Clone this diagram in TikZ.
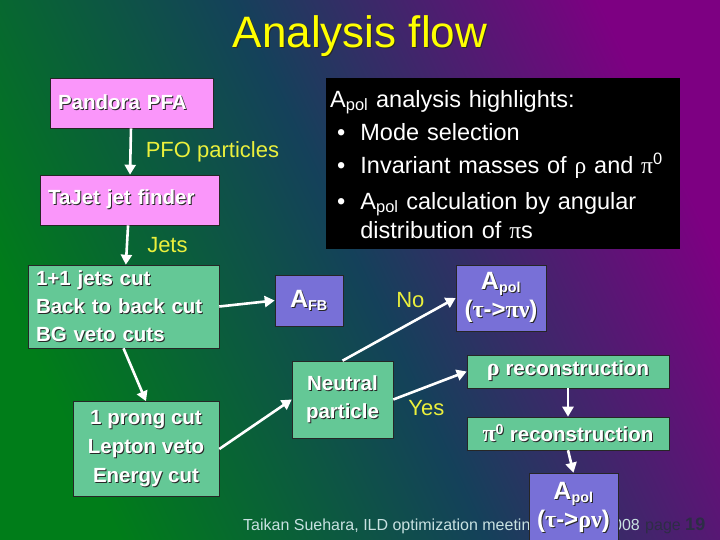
\documentclass[tikz,border=0pt]{standalone}
\usepackage{fontspec}
\setmainfont{Liberation Sans}
\newfontfamily\greekfont{Liberation Serif}
\usetikzlibrary{arrows.meta,positioning}

\definecolor{bggreen}{RGB}{0,125,25}
\definecolor{bgmid}{RGB}{20,65,90}
\definecolor{bgpurple}{RGB}{125,0,130}
\definecolor{pfapink}{RGB}{250,150,250}
\definecolor{cutgreen}{RGB}{100,200,150}
\definecolor{respurple}{RGB}{120,112,215}
\definecolor{titleyellow}{RGB}{255,255,0}
\definecolor{lblyellow}{RGB}{235,240,60}
\definecolor{shadowcol}{RGB}{40,40,40}
\definecolor{footlight}{RGB}{200,225,225}
\definecolor{footdark}{RGB}{45,45,70}

% text with a dark drop shadow
\newcommand{\shd}[1]{\leavevmode\rlap{\kern1pt\raisebox{-1pt}{\color{shadowcol}#1}}#1}
\newcommand{\gr}[1]{{\greekfont #1}}
\newcommand{\boxfont}{\fontsize{20.5}{28}\selectfont\bfseries}
\newcommand{\lblfont}{\fontsize{22}{24}\selectfont}

\begin{document}
\begin{tikzpicture}[x=1pt, y=-1pt,
    box/.style={draw=black!85, line width=0.6pt, text=white, font=\boxfont, inner ysep=0pt},
    pinkbox/.style={box, fill=pfapink, minimum height=50pt, inner xsep=8pt, align=left},
    cutbox/.style={box, fill=cutgreen},
    resbox/.style={box, fill=respurple, align=center},
    flow/.style={white, line width=2.6pt, -{Triangle[length=10pt,width=11pt]}},
    lbl/.style={text=lblyellow, font=\lblfont, inner sep=0pt}]

    % background
    \useasboundingbox (0,0) rectangle (720,540);
    \shade[left color=bggreen, right color=bgpurple, middle color=bgmid, shading angle=115]
        (0,0) rectangle (720,540);

    % title
    \node[text=titleyellow, font=\fontsize{44}{50}\selectfont] (title) at (360,37)
        {\shd{Analysis flow}};

    % footer
    \node[text=footlight, font=\fontsize{16}{18}\selectfont, anchor=base west, inner sep=0pt]
        (footer) at (243,530) {Taikan Suehara, ILD optimization meeting};
    \node[text=footlight, font=\fontsize{16}{18}\selectfont, anchor=base east, inner sep=0pt]
        (footyear) at (640,530) {2008};
    \node[text=footdark, font=\fontsize{16}{18}\selectfont, anchor=base west, inner sep=0pt]
        (page) at (645,530) {page \textbf{\fontsize{18}{18}\selectfont 19}};

    % highlights
    \node[fill=black, text=white, anchor=north west, minimum width=354pt, minimum height=168pt,
          text width=346pt, inner xsep=4pt, align=left, font=\fontsize{23.5}{25}\selectfont]
        (highlights) at (326,78) {%
        \begin{tabular}{@{}l@{\hspace{15pt}}l@{}}
        \noalign{\vskip 8pt}
        \multicolumn{2}{@{}l}{A\textsubscript{pol} analysis highlights:}\\[8pt]
        \hspace{7pt}\textbullet & Mode selection\\[5pt]
        \hspace{7pt}\textbullet & Invariant masses of \gr{ρ} and \gr{π}\textsuperscript{0}\\[11pt]
        \hspace{7pt}\textbullet & A\textsubscript{pol} calculation by angular\\[4pt]
                    & distribution of \gr{π}s
        \end{tabular}};

    % flow boxes
    \node[pinkbox, text width=147pt] (pandora) at (131.5,103) {\shd{Pandora PFA}};
    \node[pinkbox, text width=163pt] (tajet) at (129.5,200) {\shd{TaJet jet finder}};
    \node[cutbox, text width=175pt, inner xsep=8pt, minimum height=83pt, align=left]
        (cuts) at (123.5,306.5) {\shd{1+1 jets cut}\\ \shd{Back to back cut}\\ \shd{BG veto cuts}};
    \node[cutbox, minimum width=146pt, minimum height=95pt, align=center, font=\fontsize{20.5}{29}\selectfont\bfseries]
        (prong) at (146,449) {\shd{1 prong cut}\\ \shd{Lepton veto}\\ \shd{Energy cut}};
    \node[cutbox, minimum width=101pt, minimum height=77pt, align=center]
        (neutral) at (342.5,399.5) {\shd{Neutral}\\ \shd{particle}};
    \node[resbox, minimum width=68pt, minimum height=51pt]
        (afb) at (309,300.5) {\shd{{\fontsize{25}{25}\selectfont A}\textsubscript{FB}}};
    \node[resbox, minimum width=90pt, minimum height=66pt]
        (apolpi) at (501,298) {\shd{{\fontsize{25}{25}\selectfont A}\textsubscript{pol}}\\
        \shd{{\fontsize{24}{26}\selectfont(\gr{τ}->\gr{πν})}}};
    \node[cutbox, minimum width=202pt, minimum height=33pt]
        (rho) at (568,371.5) {\shd{{\fontsize{24}{24}\selectfont\gr{ρ}} reconstruction}};
    \node[cutbox, minimum width=202pt, minimum height=33pt]
        (pizero) at (568,433.5) {\shd{{\fontsize{24}{24}\selectfont\gr{π}}\textsuperscript{0} reconstruction}};
    \node[resbox, minimum width=89pt, minimum height=70pt]
        (apolrho) at (573.5,508) {\shd{{\fontsize{25}{25}\selectfont A}\textsubscript{pol}}\\
        \shd{{\fontsize{24}{26}\selectfont(\gr{τ}->\gr{ρν})}}};

    % connectors
    \draw[flow] (pandora) -- node[lbl, right=14pt] {PFO particles} (tajet);
    \draw[flow] (tajet) -- node[lbl, right=19pt] {Jets} (cuts);
    \draw[flow] (cuts.east) -- (afb.west);
    \draw[flow] (cuts.south) -- (prong.north);
    \draw[flow] (prong.east) -- (neutral.west);
    \draw[flow] (neutral.north) -- node[lbl, pos=0.6, above=14pt] {No} (apolpi.west);
    \draw[flow] (neutral.east) -- node[lbl, pos=0.45, below=12pt] {Yes} (rho.west);
    \draw[flow] (rho) -- (pizero);
    \draw[flow] (pizero.south) -- (apolrho.north);
\end{tikzpicture}
\end{document}
